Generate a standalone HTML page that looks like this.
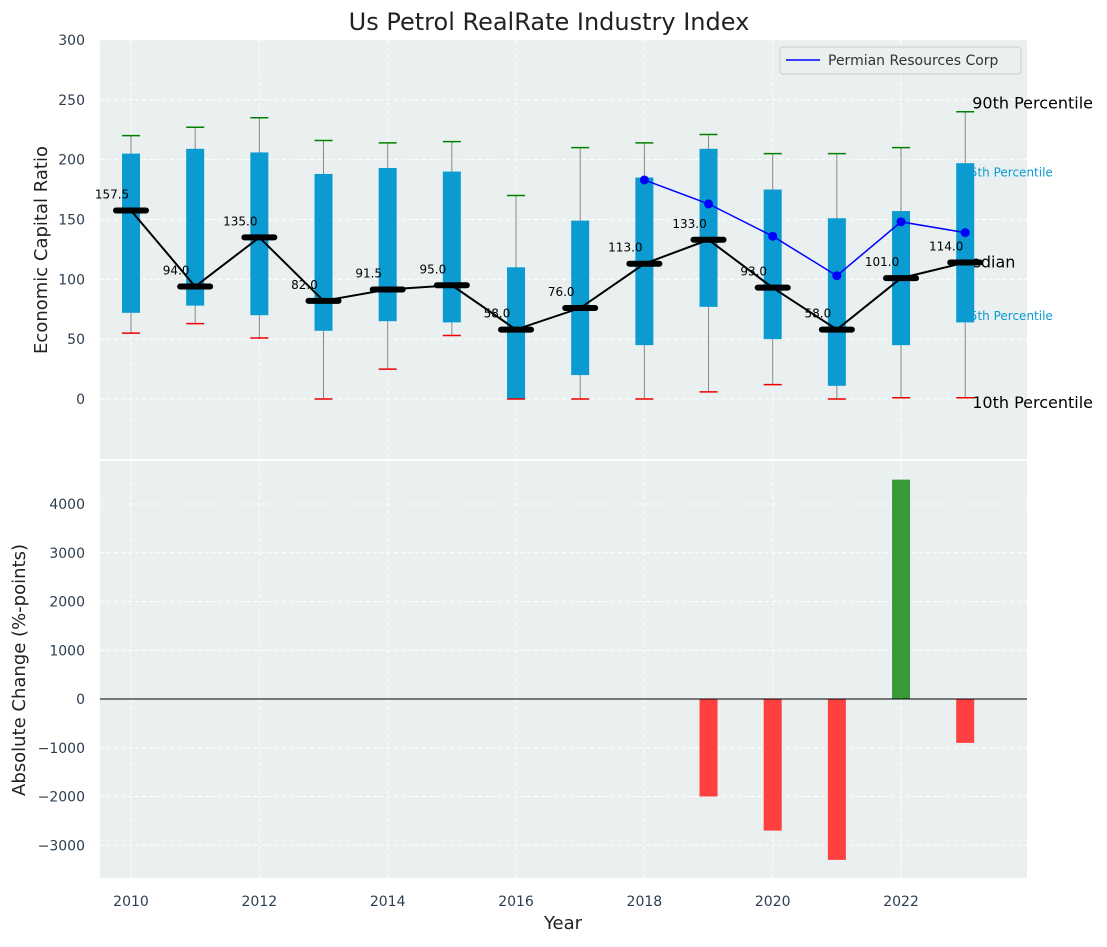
<!DOCTYPE html>
<html><head><meta charset="utf-8"><style>
body{margin:0;background:#fff;font-family:"Liberation Sans","DejaVu Sans",sans-serif}
svg text{font-family:"DejaVu Sans","Liberation Sans",sans-serif}
</style></head><body>
<svg id="c" width="1107" height="942" xmlns="http://www.w3.org/2000/svg"></svg>
<script>
const years=[2010,2011,2012,2013,2014,2015,2016,2017,2018,2019,2020,2021,2022,2023];
const q1=[72,78,70,57,65,64,0,20,45,77,50,11,45,64];
const q3=[205,209,206,188,193,190,110,149,185,209,175,151,157,197];
const p10=[55,63,51,0,25,53,0,0,0,6,12,0,1,1];
const p90=[220,227,235,216,214,215,170,210,214,221,205,205,210,240];
const medians=[157.5,94,135,82,91.5,95,58,76,113,133,93,58,101,114];
const permYears=[2018,2019,2020,2021,2022,2023];
const permVals=[183,163,136,103,148,139];
const chgYears=[2019,2020,2021,2022,2023];
const chgVals=[-2000,-2700,-3300,4500,-900];
const topTicks=[0,50,100,150,200,250,300];
const botTicks=[-3000,-2000,-1000,0,1000,2000,3000,4000];
const xTicks=[2010,2012,2014,2016,2018,2020,2022];

const svg=document.getElementById('c');
const NS='http://www.w3.org/2000/svg';
function el(t,a,txt){const e=document.createElementNS(NS,t);for(const k in a)e.setAttribute(k,a[k]);if(txt!==undefined)e.textContent=txt;svg.appendChild(e);return e;}
const L=100,R=1027,T1=40,B1=459,T2=461,B2=878;
const x=v=>131+(v-2010)*64.17;
const y1=v=>399-v*1.197;
const y2=v=>699-v*0.04875;

let e;
e=el('rect',{x:L,y:T1,width:R-L,height:B1-T1,fill:'#eaeff0'});

e=el('rect',{x:L,y:T2,width:R-L,height:B2-T2,fill:'#eaeff0'});

for(const t of xTicks){
 el('line',{x1:x(t),x2:x(t),y1:T1,y2:B1,stroke:'#fff','stroke-dasharray':'4,3'});
 el('line',{x1:x(t),x2:x(t),y1:T2,y2:B2,stroke:'#fff','stroke-dasharray':'4,3'});
 e=el('text',{x:x(t),y:906,'font-size':14,'text-anchor':'middle',fill:'#2c3e50'},t);
 
}
for(const t of topTicks){
 el('line',{x1:L,x2:R,y1:y1(t),y2:y1(t),stroke:'#fff','stroke-dasharray':'4,3'});
 e=el('text',{x:85,y:y1(t)+5,'font-size':14,'text-anchor':'end',fill:'#2c3e50'},t);
 
}
for(const t of botTicks){
 el('line',{x1:L,x2:R,y1:y2(t),y2:y2(t),stroke:'#fff','stroke-dasharray':'4,3'});
 e=el('text',{x:85,y:y2(t)+5,'font-size':14,'text-anchor':'end',fill:'#2c3e50'},t<0?'\u2212'+(-t):t);
 
}
const xa=x(2023);
e=el('text',{x:xa+7,y:y1(245)+3,'font-size':16,fill:'#000'},'90th Percentile');
e=el('text',{x:xa-3,y:y1(190)+5,'font-size':12,fill:'#0b9bd0'},'75th Percentile');
e=el('text',{x:xa-8,y:y1(114)+5,'font-size':16,fill:'#000'},'Median');
e=el('text',{x:xa-3,y:y1(70)+5,'font-size':12,fill:'#0b9bd0'},'25th Percentile');
e=el('text',{x:xa+7,y:y1(-5)+3,'font-size':16,fill:'#000'},'10th Percentile');
years.forEach((yr,i)=>{
 const cx=x(yr);
 el('line',{x1:cx,x2:cx,y1:y1(p10[i]),y2:y1(p90[i]),stroke:'#888','stroke-width':1});
 e=el('rect',{x:cx-9,y:y1(q3[i]),width:18,height:y1(q1[i])-y1(q3[i]),fill:'#0b9bd0'});
 
 el('line',{x1:cx-9,x2:cx+9,y1:y1(p90[i]),y2:y1(p90[i]),stroke:'#008000','stroke-width':1.5});
 el('line',{x1:cx-9,x2:cx+9,y1:y1(p10[i]),y2:y1(p10[i]),stroke:'#e00','stroke-width':1.5});
});
e=el('polyline',{points:years.map((yr,i)=>x(yr)+','+y1(medians[i])).join(' '),fill:'none',stroke:'#000','stroke-width':2});

years.forEach((yr,i)=>{
 const cx=x(yr);
 e=el('line',{x1:cx-15,x2:cx+15,y1:y1(medians[i]),y2:y1(medians[i]),stroke:'#000','stroke-width':6,'stroke-linecap':'round'});
 
 e=el('text',{x:cx-19,y:y1(medians[i])-12,'font-size':12,'text-anchor':'middle',fill:'#000'},medians[i].toFixed(1));
 
});
e=el('polyline',{points:permYears.map((yr,i)=>x(yr)+','+y1(permVals[i])).join(' '),fill:'none',stroke:'#0000ff','stroke-width':1.5});

permYears.forEach((yr,i)=>{
 e=el('circle',{cx:x(yr),cy:y1(permVals[i]),r:4.5,fill:'#0000ff'});
 
});
e=el('rect',{x:780,y:47,width:241,height:27,rx:3,fill:'#eaeff0',stroke:'#ccc'});

el('line',{x1:786,x2:820,y1:60,y2:60,stroke:'#0000ff','stroke-width':1.5});
e=el('text',{x:828,y:65,'font-size':14,fill:'#333'},'Permian Resources Corp');

chgYears.forEach((yr,i)=>{
 const v=chgVals[i];const a=y2(Math.max(v,0)),b=y2(Math.min(v,0));
 e=el('rect',{x:x(yr)-9,y:a,width:18,height:b-a,fill:v>=0?'#3a9a3a':'#ff4040'});
 
});
el('line',{x1:L,x2:R,y1:y2(0),y2:y2(0),stroke:'#000','stroke-width':1});
e=el('text',{x:549,y:30,'font-size':24,'text-anchor':'middle',fill:'#222'},'Us Petrol RealRate Industry Index');

e=el('text',{x:563,y:929,'font-size':18,'text-anchor':'middle',fill:'#222'},'Year');

e=el('text',{x:47,y:250,'font-size':18,'text-anchor':'middle',fill:'#222',transform:'rotate(-90 47 250)'},'Economic Capital Ratio');

e=el('text',{x:25,y:670,'font-size':18,'text-anchor':'middle',fill:'#222',transform:'rotate(-90 25 670)'},'Absolute Change (%-points)');

</script>
</body></html>
